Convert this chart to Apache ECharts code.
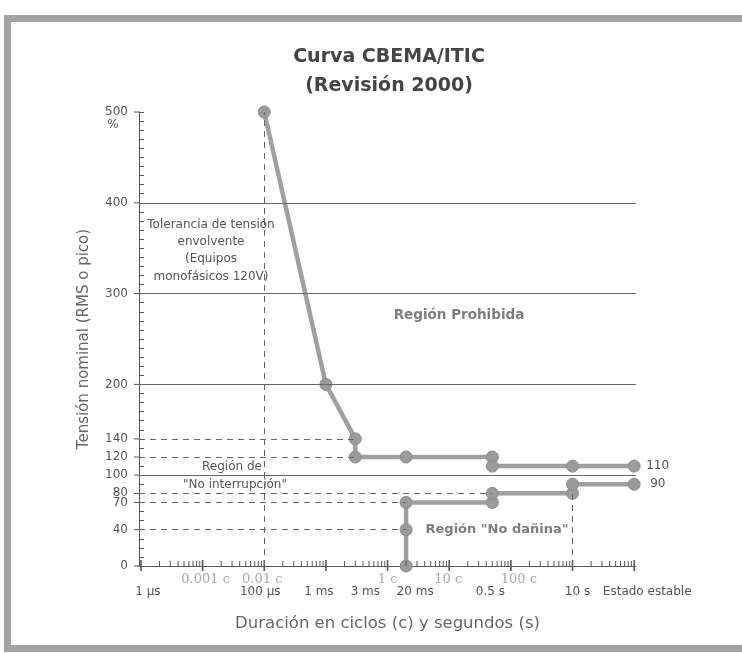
<!DOCTYPE html>
<html>
<head>
<meta charset="utf-8">
<script src="https://cdn.jsdelivr.net/npm/echarts@6/dist/echarts.min.js"></script>
<style>
html, body { margin: 0; background: #fff; }
#chart { width: 742px; height: 653px; }
</style>
</head>
<body>
<div id="chart"></div>
<script>
// puntos de la curva ITIC: [duración en s, % tensión nominal]
let upperCurve = [[1e-4, 500], [1e-3, 200], [3e-3, 140], [3e-3, 120], [0.02, 120], [0.5, 120], [0.5, 110], [10, 110], [100, 110]];
let lowerCurve = [[0.02, 0], [0.02, 40], [0.02, 70], [0.5, 70], [0.5, 80], [10, 80], [10, 90], [100, 90]];

let yTickLabels = [0, 40, 70, 80, 100, 120, 140, 200, 300, 400, 500];
let solidLevels = [100, 200, 300, 400];
// [nivel, duración donde termina la guía]
let dashedLevels = [[140, 3e-3], [120, 3e-3], [80, 0.5], [70, 0.02], [40, 0.02]];
// [duración, nivel superior]
let dashedVerticals = [[1e-4, 500], [10, 80]];

let timeLabels = ['1 µs', '100 µs', '1 ms', '3 ms', '20 ms', '0.5 s', '10 s', 'Estado estable'];
let timeLabelAt = [1e-6, 1e-4, 1e-3, 3e-3, 0.02, 0.5, 10, 100];
let cycleLabels = ['0.001 c', '0.01 c', '1 c', '10 c', '100 c'];
let cycleLabelAt = [1e-5, 1e-4, 1e-2, 1e-1, 1];

let xMin = 9.3e-7, xMax = 107;

// marcas del eje logarítmico (décadas y subdivisiones 2..9)
let xMajorTicks = [], xMinorTicks = [];
for (let d = -6; d <= 2; d++) {
  xMajorTicks.push(Math.pow(10, d));
  if (d < 2) for (let k = 2; k <= 9; k++) xMinorTicks.push(k * Math.pow(10, d));
}

let font = '"DejaVu Sans", sans-serif';
let dash = [6, 5];
// corrimientos en px de los rótulos, como en el dibujo original
let timeLabelDx = [7, -4, -7, 10, 9, -2, 5, 13];
let cycleLabelDx = [3, -2, 0, -1, 8];

let guideLines = solidLevels.map(v => ({ yAxis: v }))
  .concat(dashedLevels.map(([v, x]) => [{ coord: [xMin, v], lineStyle: { type: dash } }, { coord: [x, v] }]))
  .concat(dashedVerticals.map(([x, v]) => [{ coord: [x, 0], lineStyle: { type: dash } }, { coord: [x, v] }]));

function txt(text, x, y, opts) {
  return {
    type: 'text', x: x, y: y, silent: true,
    style: Object.assign({
      text: text, fill: '#555', font: '12px ' + font,
      align: 'center', verticalAlign: 'middle', textAlign: 'center', textVerticalAlign: 'middle'
    }, opts || {})
  };
}

function axisText(labels, at, dxs, dy, fill, fnt) {
  return {
    type: 'custom', coordinateSystem: 'cartesian2d', silent: true, clip: false, z: 4,
    data: at.map((v, i) => [v, 0, i]),
    renderItem: (params, api) => {
      let p = api.coord([api.value(0), 0]);
      return {
        type: 'text', x: p[0] + dxs[params.dataIndex], y: p[1] + dy,
        style: { text: labels[params.dataIndex], fill: fill, font: fnt,
          align: 'center', verticalAlign: 'middle', textAlign: 'center', textVerticalAlign: 'middle' }
      };
    }
  };
}

let chart = echarts.init(document.getElementById('chart'), null, { renderer: 'canvas' });

let option = {
  animation: false,
  backgroundColor: '#fff',
  title: {
    text: 'Curva CBEMA/ITIC\n(Revisión 2000)',
    left: 389, top: 43, padding: 0, textAlign: 'center',
    textStyle: { fontFamily: font, fontSize: 19, fontWeight: 'bold', color: '#444', lineHeight: 29 }
  },
  grid: { left: 139, top: 112, width: 497, height: 454 },
  xAxis: {
    type: 'log', min: xMin, max: xMax,
    axisLine: { show: true, lineStyle: { color: '#555' } },
    axisTick: { show: false },
    axisLabel: { show: false },
    splitLine: { show: false },
    name: 'Duración en ciclos (c) y segundos (s)',
    nameLocation: 'middle', nameGap: 49,
    nameTextStyle: { fontFamily: font, fontSize: 16.5, color: '#666' }
  },
  yAxis: {
    type: 'value', min: 0, max: 500, interval: 10,
    axisLine: { show: true, lineStyle: { color: '#555' } },
    axisTick: { show: true, inside: true, length: 5, lineStyle: { color: '#555' } },
    splitLine: { show: false },
    axisLabel: {
      color: '#555', fontFamily: font, fontSize: 12, margin: 11,
      formatter: v => yTickLabels.indexOf(Math.round(v)) >= 0 ? String(Math.round(v)) : ''
    },
    name: 'Tensión nominal (RMS o pico)',
    nameLocation: 'middle', nameGap: 47,
    nameTextStyle: { fontFamily: font, fontSize: 15, color: '#666' }
  },
  graphic: [
    { type: 'rect', silent: true, shape: { x: 7.5, y: 18.5, width: 760, height: 630 },
      style: { fill: 'none', stroke: '#a3a3a3', lineWidth: 7 } },
    txt('%', 113, 125),
    txt('Tolerancia de tensión\nenvolvente\n(Equipos\nmonofásicos 120V)', 211, 216,
      { verticalAlign: 'top', textVerticalAlign: 'top', lineHeight: 17.3 }),
    txt('Región Prohibida', 459, 315, { fill: '#7d7d7d', font: 'bold 13.5px ' + font }),
    txt('Región de', 232, 467),
    txt('"No interrupción"', 235, 485),
    txt('Región "No dañina"', 497, 530, { fill: '#7d7d7d', font: 'bold 13px ' + font })
  ],
  series: [
    {
      name: 'Límite superior', type: 'line', data: upperCurve,
      symbol: 'circle', symbolSize: 12, showAllSymbol: true, z: 3,
      lineStyle: { color: '#a0a0a0', width: 4.5 },
      itemStyle: { color: '#9a9a9a', borderColor: '#8c8c8c', borderWidth: 1 },
      endLabel: { show: true, formatter: '110', color: '#555', fontFamily: font, fontSize: 12, distance: 12 },
      markLine: {
        silent: true, symbol: ['none', 'none'], label: { show: false },
        lineStyle: { color: '#666', width: 1, type: 'solid' },
        data: guideLines
      }
    },
    {
      name: 'Límite inferior', type: 'line', data: lowerCurve,
      symbol: 'circle', symbolSize: 12, showAllSymbol: true, z: 3,
      lineStyle: { color: '#a0a0a0', width: 4.5 },
      itemStyle: { color: '#9a9a9a', borderColor: '#8c8c8c', borderWidth: 1 },
      endLabel: { show: true, formatter: '90', color: '#555', fontFamily: font, fontSize: 12, distance: 16 }
    },
    {
      // marcas del eje x
      type: 'custom', coordinateSystem: 'cartesian2d', silent: true, clip: false, z: 4,
      data: xMinorTicks.map(v => [v, 0, 0]).concat(xMajorTicks.map(v => [v, 0, 1])),
      renderItem: (params, api) => {
        let p = api.coord([api.value(0), 0]);
        let major = api.value(2) === 1;
        return {
          type: 'line',
          shape: { x1: p[0], y1: p[1] - (major ? 6 : 5), x2: p[0], y2: p[1] + (major ? 5 : 0) },
          style: { stroke: '#555', lineWidth: major ? 1.6 : 1 }
        };
      }
    },
    {
      // marcas exteriores del eje y en los valores rotulados
      type: 'custom', coordinateSystem: 'cartesian2d', silent: true, clip: false, z: 4,
      data: yTickLabels.map(v => [xMin, v]),
      renderItem: (params, api) => {
        let p = api.coord([api.value(0), api.value(1)]);
        return { type: 'line', shape: { x1: p[0] - 5, y1: p[1], x2: p[0], y2: p[1] },
          style: { stroke: '#555', lineWidth: 1 } };
      }
    },
    axisText(cycleLabels, cycleLabelAt, cycleLabelDx, 14, '#aaa', '13px "DejaVu Serif", serif'),
    axisText(timeLabels, timeLabelAt, timeLabelDx, 26, '#555', '12px ' + font)
  ]
};

chart.setOption(option);
</script>
</body>
</html>
